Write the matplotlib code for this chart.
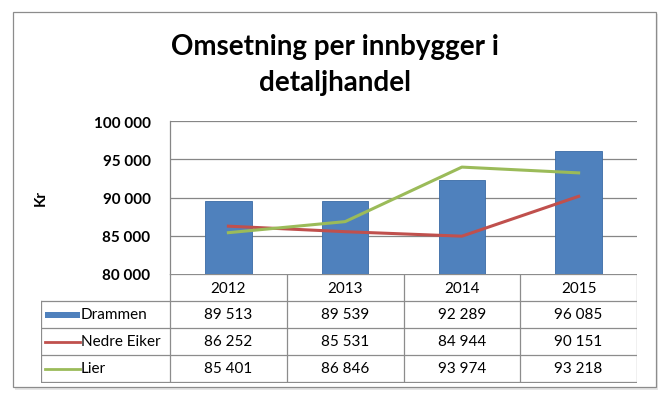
import matplotlib.pyplot as plt
from matplotlib.patches import Rectangle

# data
years = ['2012', '2013', '2014', '2015']
drammen = [89513, 89539, 92289, 96085]
nedre_eiker = [86252, 85531, 84944, 90151]
lier = [85401, 86846, 93974, 93218]
series_names = ['Drammen', 'Nedre Eiker', 'Lier']
yticks = [80000, 85000, 90000, 95000, 100000]

W, H = 667, 402
blue = '#4F81BD'
red = '#C0504D'
green = '#9BBB59'
grid_col = '#868686'
font = 'Lato'

plt.rcParams['font.family'] = [font, 'DejaVu Sans']


def fmt(v):
    return f'{v:,}'.replace(',', ' ')


def box(x0, y0, x1, y1):
    # pixel box (top-left origin) -> figure fraction
    return [x0 / W, 1 - y1 / H, (x1 - x0) / W, (y1 - y0) / H]


fig = plt.figure(figsize=(W / 100, H / 100), dpi=100)
fig.patch.set_facecolor('white')

# outer chart frame
fig.patches.append(Rectangle((15 / W, 1 - 391 / H), 643 / W, 376 / H,
                             transform=fig.transFigure, facecolor='#E6E6E6',
                             edgecolor='none', zorder=-3))
fig.patches.append(Rectangle((13 / W, 1 - 388 / H), 643 / W, 375 / H,
                             transform=fig.transFigure, facecolor='white',
                             edgecolor='#8C8C8C', lw=0.9, zorder=-2))

fig.text(335 / W, 1 - 47 / H, 'Omsetning per innbygger i', ha='center',
         va='center', fontsize=20, fontweight='bold')
fig.text(335 / W, 1 - 83 / H, 'detaljhandel', ha='center',
         va='center', fontsize=20, fontweight='bold')

# plot area
ax = fig.add_axes(box(170, 122, 637, 275))
ax.patch.set_alpha(0)
x = range(len(years))
ax.bar(x, drammen, width=0.4, color=blue, edgecolor='#3A6BA5', lw=0.6, zorder=2)
ax.plot(x, nedre_eiker, color=red, lw=2.2, zorder=3)
ax.plot(x, lier, color=green, lw=2.2, zorder=3)
ax.set_xlim(-0.5, 3.5)
ax.set_ylim(80000, 100000)
ax.set_yticks(yticks)
ax.set_yticklabels([fmt(v) for v in yticks], fontsize=11, fontweight='bold')
ax.tick_params(axis='y', length=0, pad=14)
ax.set_xticks([])
for v in yticks[1:]:
    ax.axhline(v, color=grid_col, lw=0.9, zorder=1)
for s in ['top', 'right', 'bottom']:
    ax.spines[s].set_visible(False)
ax.spines['left'].set_color(grid_col)
ax.spines['left'].set_linewidth(0.9)
ax.set_ylabel('Kr', fontsize=11, fontweight='bold')
ax.yaxis.set_label_coords((48 - 170) / (637 - 170), 0.5)

# data table
tx = fig.add_axes(box(41, 275, 637, 384))
tx.patch.set_alpha(0)
tx.set_xlim(41, 637)
tx.set_ylim(384, 275)
tx.axis('off')
cols = [170 + i * (637 - 170) / 4 for i in range(5)]
rows = [275, 302, 329, 356, 383]
lc = '#8C8C8C'
tx.plot([170, 637], [275, 275], color=lc, lw=0.9)
for r in rows[1:]:
    tx.plot([41, 637], [r, r], color=lc, lw=0.9)
for c in cols:
    tx.plot([c, c], [275, 383], color=lc, lw=0.9)
tx.plot([41, 41], [302, 383], color=lc, lw=0.9)
for i, yr in enumerate(years):
    tx.text((cols[i] + cols[i + 1]) / 2, 289, yr, ha='center', va='center',
            fontsize=11)
for j, (name, vals) in enumerate(zip(series_names, [drammen, nedre_eiker, lier])):
    yc = (rows[j + 1] + rows[j + 2]) / 2
    for i, v in enumerate(vals):
        tx.text((cols[i] + cols[i + 1]) / 2, yc, fmt(v), ha='center',
                va='center', fontsize=11)
    tx.text(81, yc, name, ha='left', va='center', fontsize=11)
tx.add_patch(Rectangle((45, 313), 35, 6, facecolor=blue, edgecolor='none'))
tx.plot([45, 80], [343, 343], color=red, lw=2)
tx.plot([45, 80], [370, 370], color=green, lw=2)

fig.savefig('out.png', dpi=100)
